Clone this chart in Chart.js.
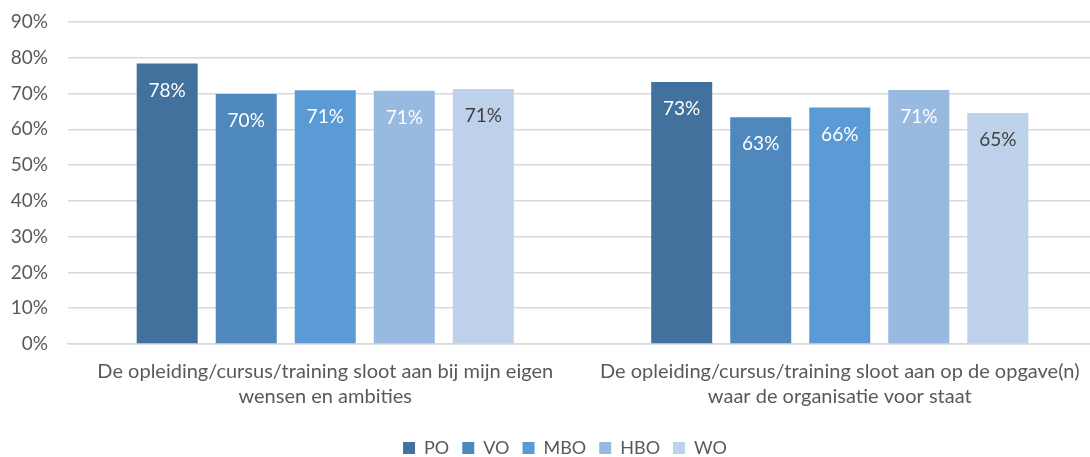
<!DOCTYPE html>
<html>
<head>
<meta charset="utf-8">
<script src="https://cdn.jsdelivr.net/npm/chart.js@4/dist/chart.umd.min.js"></script>
<style>
    html, body { margin: 0; padding: 0; background: #fff; overflow: hidden; }
    #wrap { position: absolute; left: 0; top: 0; width: 1097px; height: 457px; }
</style>
</head>
<body>
<div id="wrap"><canvas id="chart" width="1097" height="457"></canvas></div>
<script>
// Data
const categories = [
    ['De opleiding/cursus/training sloot aan bij mijn eigen', 'wensen en ambities'],
    ['De opleiding/cursus/training sloot aan op de opgave(n)', 'waar de organisatie voor staat']
];
const seriesNames = ['PO', 'VO', 'MBO', 'HBO', 'WO'];
const poValues = [78.4, 73.2];
const voValues = [69.9, 63.4];
const mboValues = [70.9, 66.1];
const hboValues = [70.8, 71.0];
const woValues = [71.3, 64.6];
const yTicks = [0, 10, 20, 30, 40, 50, 60, 70, 80, 90];

const colors = ['#41719C', '#4E88BD', '#5B9BD5', '#98B9E0', '#BDD1EA'];
const labelColors = ['#ffffff', '#ffffff', '#ffffff', '#ffffff', '#404040'];
const FONT = 'Lato, "Noto Sans", sans-serif';

const allValues = [poValues, voValues, mboValues, hboValues, woValues];

// draws the rounded percentage inside the top of each bar
const barLabels = {
    id: 'barLabels',
    afterLayout(chart) {
        // y axis is kept narrow so the legend centres like the original; widen its label clip
        chart.scales.y.left = 0;
    },
    afterDatasetsDraw(chart) {
        const ctx = chart.ctx;
        ctx.save();
        ctx.font = '19px ' + FONT;
        ctx.textAlign = 'center';
        ctx.textBaseline = 'middle';
        chart.data.datasets.forEach((ds, i) => {
            const meta = chart.getDatasetMeta(i);
            meta.data.forEach((bar, j) => {
                ctx.fillStyle = labelColors[i];
                ctx.fillText(Math.round(ds.data[j]) + '%', bar.x, bar.y + 27);
            });
        });
        ctx.restore();
    }
};

new Chart(document.getElementById('chart'), {
    type: 'bar',
    data: {
        labels: categories,
        datasets: seriesNames.map((name, i) => ({
            label: name,
            data: allValues[i],
            backgroundColor: colors[i],
            categoryPercentage: 0.768,
            barPercentage: 0.772
        }))
    },
    options: {
        responsive: false,
        animation: false,
        layout: { padding: { left: 33, right: 0, top: 22, bottom: -10 } },
        plugins: {
            tooltip: { enabled: false },
            legend: {
                position: 'bottom',
                labels: {
                    boxWidth: 12,
                    boxHeight: 12,
                    padding: 13,
                    color: '#595959',
                    font: { family: FONT, size: 18 }
                }
            }
        },
        scales: {
            x: {
                afterFit(scale) { scale.height += 10; },
                grid: { display: false },
                border: { color: '#d9d9d9', width: 1.5 },
                ticks: {
                    color: '#595959',
                    padding: 7,
                    maxRotation: 0,
                    font: { family: FONT, size: 20, lineHeight: 1.25 }
                }
            },
            y: {
                min: 0,
                max: 90,
                afterFit(scale) { scale.width = 35; },
                afterBuildTicks(scale) { scale.ticks = yTicks.map(v => ({ value: v })); },
                grid: { color: '#d9d9d9', lineWidth: 1.5, drawTicks: true, tickLength: 17, tickColor: 'rgba(0,0,0,0)' },
                border: { display: false },
                ticks: {
                    color: '#595959',
                    padding: 3,
                    font: { family: FONT, size: 19 },
                    callback: v => v + '%'
                }
            }
        }
    },
    plugins: [barLabels]
});
</script>
</body>
</html>
